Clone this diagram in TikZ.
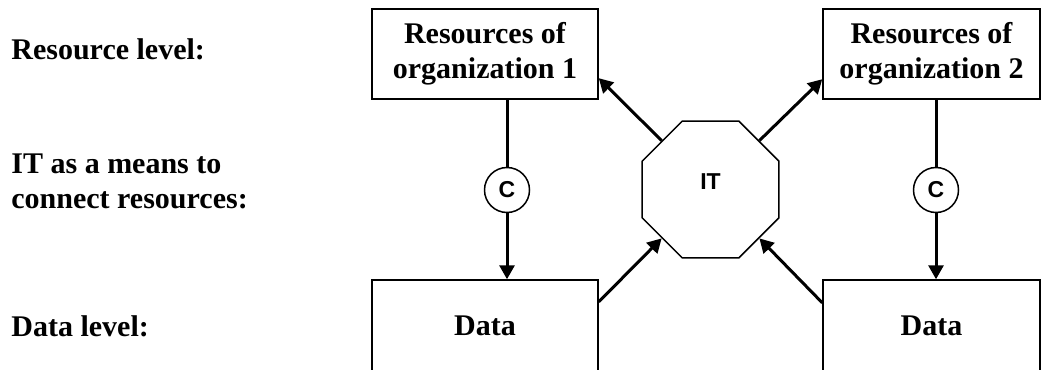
\documentclass[tikz,border=0pt]{standalone}
\usepackage{fontspec}
\setmainfont{Liberation Serif}
\setsansfont{Liberation Sans}
\usetikzlibrary{arrows.meta,shapes.geometric}

\tikzset{
  resbox/.style={rectangle,draw,line width=0.75pt,minimum width=113pt,minimum height=45pt,align=center,inner sep=0pt},
  levellabel/.style={anchor=base west,inner sep=0pt,align=left},
  sanslabel/.style={font=\sffamily\bfseries\fontsize{11.5}{13}\selectfont},
  conn/.style={circle,draw,line width=0.75pt,minimum size=22.5pt,inner sep=0pt,sanslabel},
  itoct/.style={regular polygon,regular polygon sides=8,draw,line width=0.75pt,minimum size=74pt,inner sep=0pt},
  link/.style={line width=1.5pt},
}

\begin{document}
\begin{tikzpicture}[x=0.5pt,y=-0.5pt,>={Triangle[length=7pt,width=7.5pt]},font=\bfseries\fontsize{15}{17.5}\selectfont]
    \useasboundingbox (0,0) rectangle (1042,369);
    \clip (0,0) rectangle (1042,369);

    \node[levellabel] (reslevel) at (11,60) {Resource level:};
    \node[levellabel,anchor=west] (itlevel) at (11,181) {IT as a means to\\connect resources:};
    \node[levellabel] (datalevel) at (11,336) {Data level:};

    \node[resbox] (res1) at (485,54) {Resources of\\organization 1};
    \node[resbox,minimum width=108.5pt] (res2) at (931.5,54) {Resources of\\organization 2};
    \node[resbox,minimum height=46pt] (data1) at (485,326) {Data};
    \node[resbox,minimum width=108.5pt,minimum height=46pt] (data2) at (931.5,326) {Data};

    \node[conn] (c1) at (507,190) {C};
    \node[conn] (c2) at (936,190) {C};
    \node[itoct] (it) at (710.5,189.5) {};
    \node[sanslabel] (itname) at ([yshift=4pt]it.center) {IT};

    \draw[link] (res1.south -| c1) -- (c1);
    \draw[link,->] (c1) -- (data1.north -| c1);
    \draw[link] (res2.south -| c2) -- (c2);
    \draw[link,->] (c2) -- (data2.north -| c2);

    \draw[link,->] (it.135) -- (res1.-12);
    \draw[link,->] (data1.12) -- (it.-135);
    \draw[link,->] (it.45) -- (res2.193);
    \draw[link,->] (data2.168) -- (it.-45);
\end{tikzpicture}
\end{document}
